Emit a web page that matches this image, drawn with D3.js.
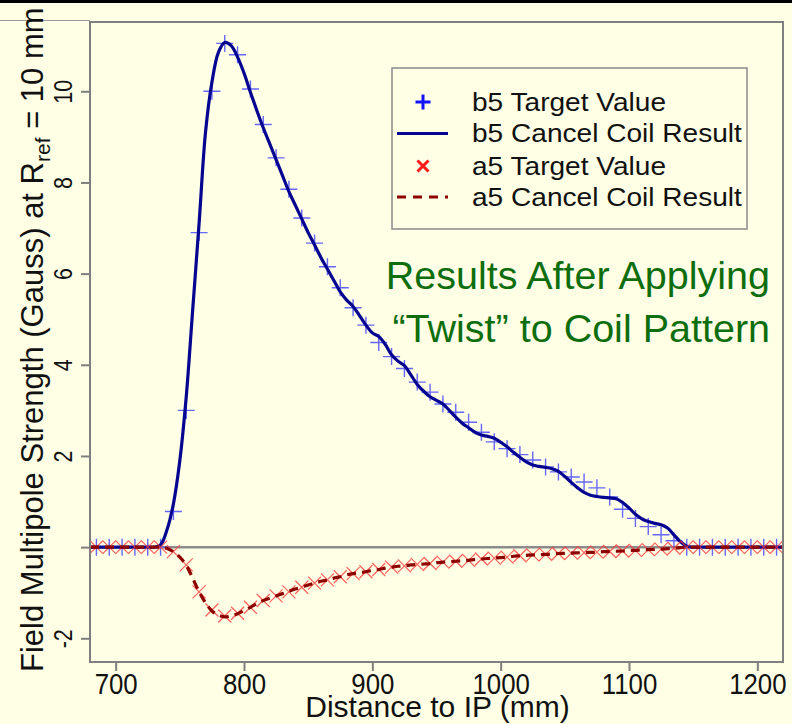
<!DOCTYPE html>
<html>
<head>
<meta charset="utf-8">
<script src="https://cdn.jsdelivr.net/npm/d3@7"></script>
<style>
  html, body { margin: 0; padding: 0; background: #ffffe6; }
  svg { display: block; }
  text { font-family: "Liberation Sans", Arial, Helvetica, sans-serif; }
</style>
</head>
<body>
<svg id="chart" width="792" height="724"></svg>
<script>
// Target positions along the beam line (mm)
const targetDist = [685, 695, 705, 715, 725, 735, 745, 755, 765, 775, 785, 795, 805, 815, 825, 835, 845, 855, 865, 875,
  885, 895, 905, 915, 925, 935, 945, 955, 965, 975, 985, 995, 1005, 1015, 1025, 1035, 1045, 1055, 1065, 1075,
  1085, 1095, 1105, 1115, 1125, 1135, 1145, 1155, 1165, 1175, 1185, 1195, 1205, 1215];

// b5 target values (Gauss)
const b5Target = [0, 0, 0, 0, 0, 0, 0.78, 3.0, 6.9, 10.0, 11.05, 10.8, 10.05, 9.27, 8.54, 7.85, 7.22, 6.67, 6.15, 5.69,
  5.25, 4.87, 4.49, 4.18, 3.92, 3.62, 3.40, 3.14, 2.96, 2.74, 2.52, 2.31, 2.16, 2.03, 1.91, 1.76, 1.65, 1.54, 1.43, 1.30,
  1.10, 0.83, 0.63, 0.45, 0.27, 0.14, 0, 0, 0, 0, 0, 0, 0, 0];

// a5 target values (Gauss)
const a5Target = [0, 0, 0, 0, 0, 0, -0.1, -0.39, -0.98, -1.38, -1.51, -1.45, -1.32, -1.17, -1.07, -0.98, -0.88, -0.79, -0.72, -0.65,
  -0.58, -0.54, -0.49, -0.44, -0.41, -0.38, -0.36, -0.33, -0.31, -0.29, -0.26, -0.24, -0.22, -0.19, -0.17, -0.16, -0.14, -0.13, -0.12, -0.11,
  -0.095, -0.085, -0.07, -0.055, -0.045, -0.025, 0, 0, 0, 0, 0, 0, 0, 0];

// Positions at which the cancel coil field was evaluated (mm)
const coilDist = [680, 685, 690, 695, 700, 705, 710, 715, 720, 725, 730, 735,
  740, 745, 750, 755, 760, 765, 770, 775, 780, 785, 790, 795, 800, 805, 810, 815, 820, 825,
  830, 835, 840, 845, 850, 855, 860, 865, 870, 875, 880, 885, 890, 895, 900, 905, 910, 915, 920, 925,
  930, 935, 940, 945, 950, 955, 960, 965, 970, 975, 980, 985, 990, 995, 1000, 1005, 1010, 1015, 1020, 1025,
  1030, 1035, 1040, 1045, 1050, 1055, 1060, 1065, 1070, 1075, 1080, 1085, 1090, 1095, 1100, 1105, 1110, 1115, 1120, 1125,
  1130, 1135, 1140, 1145, 1150, 1155, 1160, 1165, 1170, 1175, 1180, 1185, 1190, 1195, 1200, 1205, 1210, 1215, 1220];

// b5 produced by the twisted cancel coil
const b5Coil = [0, 0, 0, 0, 0, 0, 0, 0, 0, 0, 0, 0.05,
  0.38, 0.95, 1.9, 3.3, 5.2, 7.1, 9.1, 10.2, 10.85, 11.07, 11.0, 10.75, 10.4, 9.98, 9.58, 9.2, 8.85, 8.5,
  8.15, 7.8, 7.5, 7.2, 6.9, 6.63, 6.35, 6.1, 5.85, 5.6, 5.42, 5.28, 5.08, 4.87, 4.7, 4.62, 4.45, 4.22, 4.08, 3.98,
  3.78, 3.57, 3.42, 3.3, 3.22, 3.14, 3.0, 2.85, 2.72, 2.62, 2.52, 2.46, 2.43, 2.39, 2.3, 2.2, 2.08, 1.97, 1.87, 1.8,
  1.77, 1.75, 1.72, 1.66, 1.55, 1.42, 1.3, 1.2, 1.14, 1.11, 1.09, 1.08, 1.06, 0.98, 0.86, 0.72, 0.62, 0.56, 0.52, 0.49,
  0.42, 0.27, 0.12, 0.02, 0, 0, 0, 0, 0, 0, 0, 0, 0, 0, 0, 0, 0, 0, 0];

// a5 produced by the twisted cancel coil
const a5Coil = [0, 0, 0, 0, 0, 0, 0, 0, 0, 0, 0, 0,
  -0.03, -0.1, -0.22, -0.4, -0.68, -0.98, -1.22, -1.4, -1.49, -1.53, -1.51, -1.46, -1.39, -1.32, -1.24, -1.17, -1.12, -1.07,
  -1.02, -0.97, -0.92, -0.88, -0.83, -0.79, -0.75, -0.72, -0.68, -0.65, -0.61, -0.58, -0.56, -0.54, -0.51, -0.49, -0.46, -0.44, -0.42, -0.41,
  -0.39, -0.38, -0.37, -0.36, -0.34, -0.33, -0.32, -0.31, -0.3, -0.29, -0.27, -0.26, -0.25, -0.24, -0.23, -0.22, -0.2, -0.19, -0.18, -0.17,
  -0.165, -0.16, -0.15, -0.14, -0.135, -0.13, -0.125, -0.12, -0.115, -0.11, -0.1, -0.095, -0.09, -0.085, -0.075, -0.07, -0.06, -0.055, -0.05, -0.045,
  -0.035, -0.025, -0.01, 0, 0, 0, 0, 0, 0, 0, 0, 0, 0, 0, 0, 0, 0, 0, 0];

const xTicks = [700, 800, 900, 1000, 1100, 1200];
const yTicks = [-2, 0, 2, 4, 6, 8, 10];
const yTickLabels = ["-2", "", "2", "4", "6", "8", "10"];

const legendLabels = ["b5 Target Value", "b5 Cancel Coil Result", "a5 Target Value", "a5 Cancel Coil Result"];
const noteLines = ["Results After Applying", "\u201CTwist\u201D to Coil Pattern"];

const svg = d3.select("#chart");
const W = 792, H = 724;
const plot = { left: 90, right: 783, top: 22, bottom: 662 };

const x = d3.scaleLinear().domain([680, 1220]).range([plot.left, plot.right]);
const y = d3.scaleLinear().domain([-2.52, 11.52]).range([plot.bottom, plot.top]);

const frameColor = "#7f7f7f";
const blueMark = "#4b4bff", blueLine = "#050591";
const redMark = "#ff3a3a", redLine = "#8c0000";

svg.append("rect").attr("width", W).attr("height", H).attr("fill", "#ffffe6");

// header strip and rule
svg.append("rect").attr("x", 0).attr("y", 0).attr("width", W).attr("height", 3).attr("fill", "#000");
svg.append("line").attr("x1", 0).attr("x2", plot.left).attr("y1", 20.5).attr("y2", 20.5)
  .attr("stroke", "#9a9a9a").attr("stroke-width", 1);

// clip for the plotted data
svg.append("clipPath").attr("id", "plotClip").append("rect")
  .attr("x", plot.left).attr("y", plot.top)
  .attr("width", plot.right - plot.left).attr("height", plot.bottom - plot.top);

// zero reference line
svg.append("line")
  .attr("x1", plot.left).attr("x2", plot.right)
  .attr("y1", y(0)).attr("y2", y(0))
  .attr("stroke", "#8c8c8c").attr("stroke-width", 2.5);

const data = svg.append("g").attr("clip-path", "url(#plotClip)");

const plusPath = (cx, cy, r) => `M${cx - r},${cy}H${cx + r}M${cx},${cy - r}V${cy + r}`;
const crossPath = (cx, cy, r) => `M${cx - r},${cy - r}L${cx + r},${cy + r}M${cx - r},${cy + r}L${cx + r},${cy - r}`;

// b5 target markers
data.append("g").selectAll("path")
  .data(targetDist.map((d, i) => [d, b5Target[i]]))
  .join("path")
  .attr("d", d => plusPath(x(d[0]), y(d[1]), 8.5))
  .attr("stroke", blueMark).attr("stroke-width", 1.4).attr("fill", "none").attr("opacity", 0.85);

// b5 coil result
const line = d3.line().x(d => x(d[0])).y(d => y(d[1])).curve(d3.curveCatmullRom.alpha(0.5));
data.append("path")
  .datum(coilDist.map((d, i) => [d, b5Coil[i]]))
  .attr("d", line)
  .attr("fill", "none").attr("stroke", blueLine).attr("stroke-width", 3.2)
  .attr("stroke-linejoin", "round");

// a5 target markers
data.append("g").selectAll("path")
  .data(targetDist.map((d, i) => [d, a5Target[i]]))
  .join("path")
  .attr("d", d => crossPath(x(d[0]), y(d[1]), 6.5))
  .attr("stroke", redMark).attr("stroke-width", 1.2).attr("fill", "none").attr("opacity", 0.8);

// a5 coil result
data.append("path")
  .datum(coilDist.map((d, i) => [d, a5Coil[i]]))
  .attr("d", line)
  .attr("fill", "none").attr("stroke", redLine).attr("stroke-width", 3.2)
  .attr("stroke-dasharray", "9,6");

// plot frame
svg.append("rect")
  .attr("x", plot.left).attr("y", plot.top)
  .attr("width", plot.right - plot.left).attr("height", plot.bottom - plot.top)
  .attr("fill", "none").attr("stroke", frameColor).attr("stroke-width", 2);

// x axis
const xAxis = svg.append("g")
  .attr("transform", `translate(0,${plot.bottom})`)
  .call(d3.axisBottom(x).tickValues(xTicks).tickFormat(d3.format("d")).tickSize(9).tickPadding(2));
xAxis.select(".domain").remove();
xAxis.selectAll(".tick line").attr("stroke", frameColor).attr("stroke-width", 2);
xAxis.selectAll(".tick text")
  .attr("fill", "#111").attr("font-size", 29)
  .attr("transform", "scale(0.89,1)")
  .style("font-family", "'Liberation Sans', Arial, sans-serif");

// y axis with rotated labels
const yAxis = svg.append("g")
  .attr("transform", `translate(${plot.left},0)`)
  .call(d3.axisLeft(y).tickValues(yTicks).tickFormat((d, i) => yTickLabels[i]).tickSize(9));
yAxis.select(".domain").remove();
yAxis.selectAll(".tick line").attr("stroke", frameColor).attr("stroke-width", 2);
yAxis.selectAll(".tick text")
  .attr("x", null).attr("dy", null)
  .attr("text-anchor", "middle")
  .attr("transform", "translate(-18,0) rotate(-90) scale(0.86,1)")
  .attr("fill", "#111").attr("font-size", 25)
  .style("font-family", "'Liberation Sans', Arial, sans-serif");

// axis titles
svg.append("text")
  .attr("x", (plot.left + plot.right) / 2 + 1).attr("y", 717)
  .attr("text-anchor", "middle").attr("font-size", 30).attr("fill", "#111")
  .text("Distance to IP (mm)");

const yTitle = svg.append("text")
  .attr("transform", "translate(43,672) rotate(-90)")
  .attr("text-anchor", "start").attr("font-size", 31).attr("fill", "#111");
yTitle.append("tspan").text("Field Multipole Strength (Gauss) at R");
yTitle.append("tspan").attr("font-size", 21).attr("dy", 7).text("ref");
yTitle.append("tspan").attr("dy", -7).text(" = 10 mm");

// legend
const lg = svg.append("g");
lg.append("rect").attr("x", 392).attr("y", 68).attr("width", 355).attr("height", 161)
  .attr("fill", "#ffffe6").attr("stroke", "#8a8a8a").attr("stroke-width", 1.5);
const rowY = [102, 133.5, 166, 197];
lg.append("path").attr("d", plusPath(423, rowY[0], 7.5))
  .attr("stroke", "#1212ff").attr("stroke-width", 3).attr("fill", "none");
lg.append("line").attr("x1", 397).attr("x2", 448).attr("y1", rowY[1]).attr("y2", rowY[1])
  .attr("stroke", blueLine).attr("stroke-width", 3.2);
lg.append("path").attr("d", crossPath(423, rowY[2], 5.5))
  .attr("stroke", "#ff1a1a").attr("stroke-width", 3).attr("fill", "none");
lg.append("line").attr("x1", 397).attr("x2", 448).attr("y1", rowY[3]).attr("y2", rowY[3])
  .attr("stroke", redLine).attr("stroke-width", 3.2).attr("stroke-dasharray", "9,7");
lg.append("g").attr("transform", "translate(472,0) scale(1.08,1)")
  .selectAll("text").data(legendLabels).join("text")
  .attr("x", 0).attr("y", (d, i) => rowY[i] + 9)
  .attr("font-size", 26).attr("fill", "#111")
  .text(d => d);

// annotation
svg.append("g").selectAll("text").data(noteLines).join("text")
  .attr("x", 770).attr("y", (d, i) => [289, 341.5][i])
  .attr("text-anchor", "end").attr("font-size", 39.5).attr("fill", "#0e6e0e")
  .text(d => d);
</script>
</body>
</html>
